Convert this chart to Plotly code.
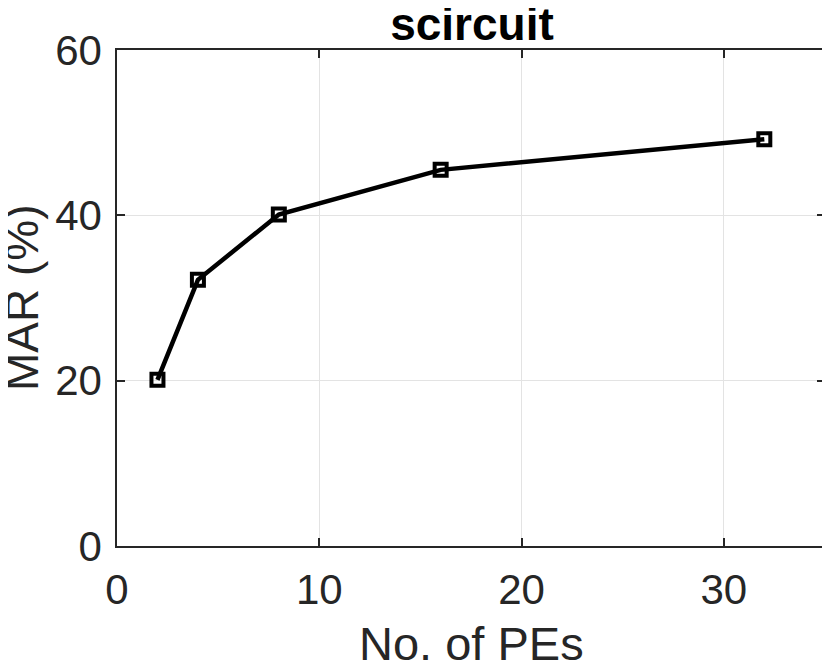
import plotly.graph_objects as go

pes = [2, 4, 8, 16, 32]
mar = [20.1, 32.2, 40.1, 45.5, 49.2]
x_ticks = [0, 10, 20, 30]
y_ticks = [0, 20, 40, 60]

FONT = "Liberation Sans, Arial"
TXT = "#262626"

fig = go.Figure()
fig.add_trace(go.Scatter(
    x=pes, y=mar, mode="lines+markers",
    line=dict(color="black", width=4.5),
    marker=dict(symbol="square-open", size=12, color="black", line=dict(width=4, color="black")),
    showlegend=False,
))

axis_common = dict(
    showline=True, linecolor=TXT, linewidth=1.5, mirror="ticks",
    ticks="inside", ticklen=8, tickwidth=1.5, tickcolor=TXT,
    showgrid=True, gridcolor="#e3e3e3", gridwidth=1, zeroline=False,
    tickfont=dict(family=FONT, size=42, color=TXT),
)

fig.update_xaxes(range=[0, 35], tickvals=x_ticks, **axis_common, ticklabelstandoff=6)
fig.update_yaxes(range=[0, 60], tickvals=y_ticks, **axis_common, ticklabelstandoff=5)

fig.add_annotation(text="No. of PEs", xref="paper", yref="paper", x=0.5, y=0,
                   xanchor="center", yanchor="middle", yshift=-97, showarrow=False,
                   font=dict(family=FONT, size=47, color=TXT))
fig.add_annotation(text="MAR (%)", xref="paper", yref="paper", x=0, y=0.5,
                   xanchor="center", yanchor="middle", xshift=-95, showarrow=False, textangle=-90,
                   font=dict(family=FONT, size=46, color=TXT))

fig.update_layout(
    width=822, height=661,
    margin=dict(l=109, r=3, t=42, b=123),
    plot_bgcolor="white", paper_bgcolor="white",
    title=dict(text="<b>scircuit</b>", x=464 / 822, xanchor="center", y=1 - 16 / 661, yanchor="middle",
               yref="container", xref="container",
               font=dict(family=FONT, size=46, color="black")),
)

fig.write_html("out.html")
